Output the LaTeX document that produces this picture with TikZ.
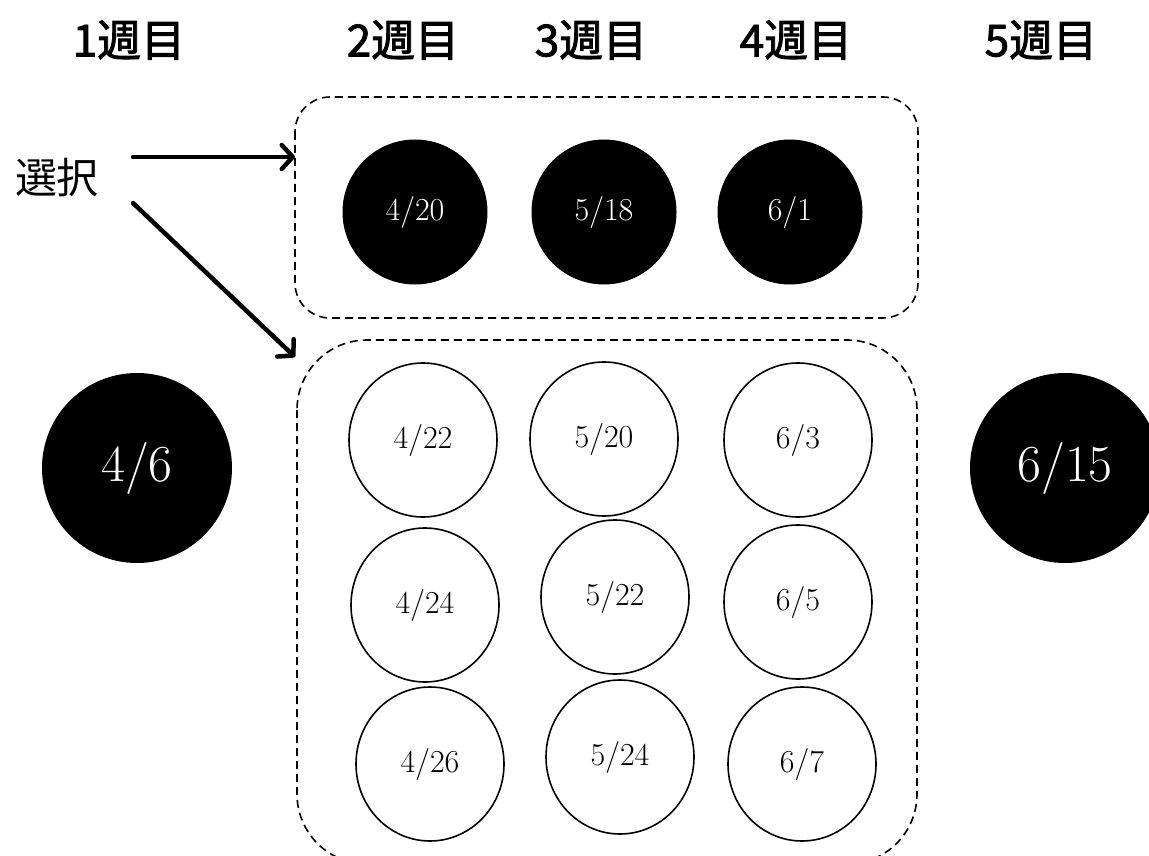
\documentclass[tikz,border=0pt]{standalone}
\usepackage{fontspec}
\newfontfamily\cjk{Noto Sans CJK JP}
\newfontfamily\cjkhead{Noto Sans CJK JP}[FakeBold=2]
\usetikzlibrary{arrows.meta,shapes.geometric}
\tikzset{
  week/.style={font=\cjkhead\fontsize{44}{44}\selectfont},
  fullday/.style={ellipse, fill=black, text=white, inner sep=0pt,
    minimum width=145pt, minimum height=145pt, font=\fontsize{32}{32}\selectfont},
  bigday/.style={fullday, minimum width=190pt, minimum height=190pt,
    font=\fontsize{52}{52}\selectfont},
  openday/.style={ellipse, draw, line width=1.6pt, inner sep=0pt,
    minimum width=148pt, minimum height=154pt, font=\fontsize{32}{32}\selectfont},
  group/.style={dash pattern=on 8pt off 5pt, line width=1.6pt},
  pickarrow/.style={line width=4.5pt, line cap=round,
    -{Straight Barb[length=11pt,width=24pt,round]}}
}
\begin{document}
\begin{tikzpicture}[x=1pt,y=-1pt]
        \useasboundingbox (0,0) rectangle (1149,856);
        % weeks
        \node[week] (w1) at (129,40) {1週目};
        \node[week] (w2) at (403,40) {2週目};
        \node[week] (w3) at (591,40) {3週目};
        \node[week] (w4) at (796,40) {4週目};
        \node[week] (w5) at (1041,40) {5週目};
        % fixed days
        \node[bigday] (d0) at (137,468) {4/6};
        \node[bigday] (d9) at (1065,468) {6/15};
        % selection boxes
        \draw[group, rounded corners=35pt] (295,97) coordinate (g1) rectangle (918,318);
        \draw[group, rounded corners=70pt] (297,340) coordinate (g2) rectangle (917,864);
        \coordinate (g2a) at (295,357);
        \node[fullday] (a1) at (415,212) {4/20};
        \node[fullday] (a2) at (604,212) {5/18};
        \node[fullday] (a3) at (790,212) {6/1};
        \node[openday] (b11) at (423,440) {4/22};
        \node[openday] (b12) at (604,439) {5/20};
        \node[openday] (b13) at (798,440) {6/3};
        \node[openday] (b21) at (425,605) {4/24};
        \node[openday] (b22) at (615,597) {5/22};
        \node[openday] (b23) at (798,602) {6/5};
        \node[openday] (b31) at (430,764) {4/26};
        \node[openday] (b32) at (620,757) {5/24};
        \node[openday] (b33) at (802,764) {6/7};
        % choice
        \node[font=\cjk\fontsize{42}{42}\selectfont] (s) at (57,178) {選択};
        \coordinate (s1) at (133,157);
        \coordinate (s2) at (133,203);
        \draw[pickarrow] (s1) -- (g1 |- s1);
        \draw[pickarrow] (s2) -- (g2a);
      \end{tikzpicture}
\end{document}
